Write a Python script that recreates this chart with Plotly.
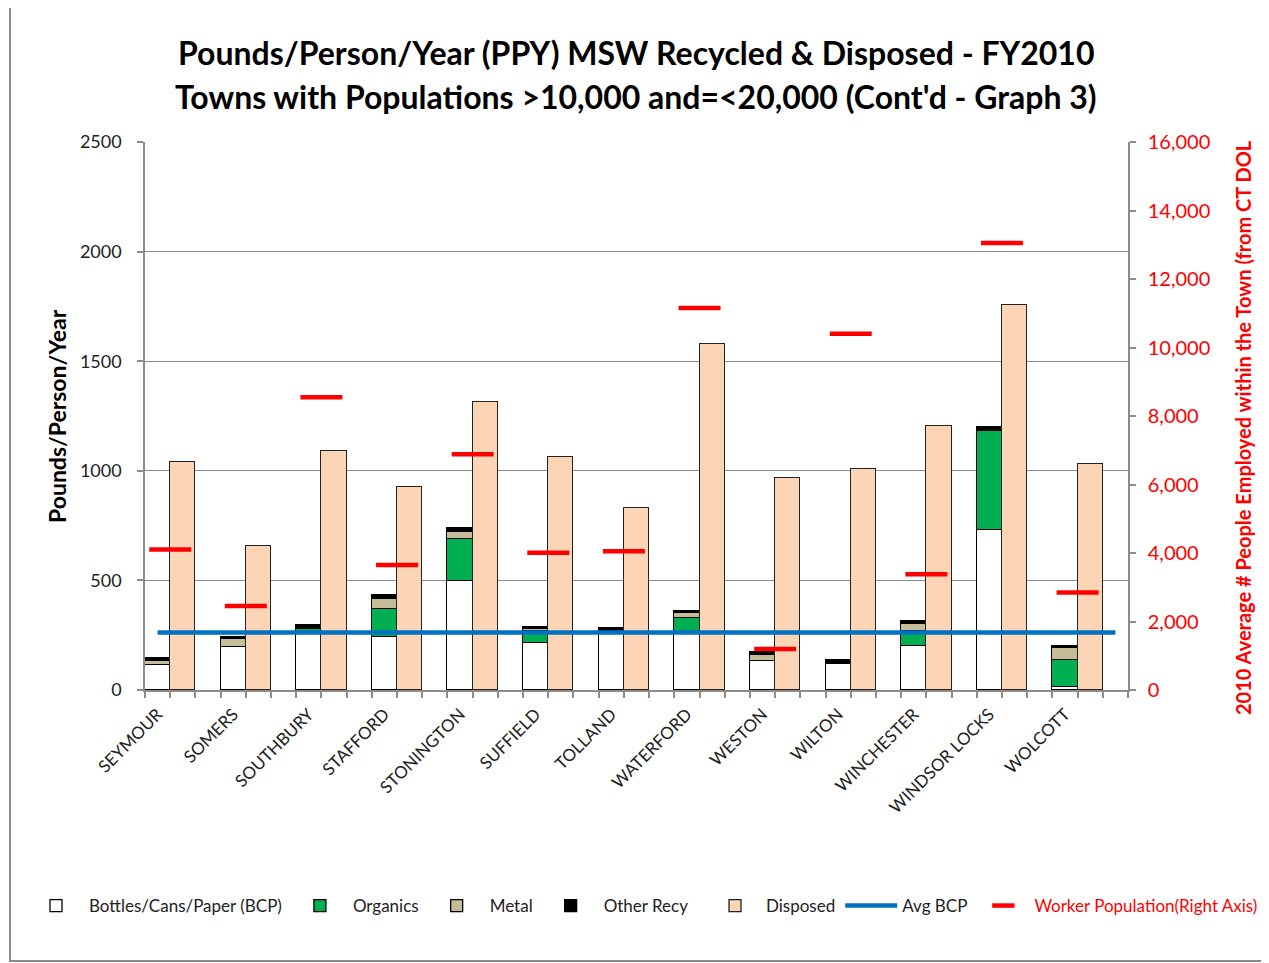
import plotly.graph_objects as go

towns = ["SEYMOUR", "SOMERS", "SOUTHBURY", "STAFFORD", "STONINGTON", "SUFFIELD", "TOLLAND",
         "WATERFORD", "WESTON", "WILTON", "WINCHESTER", "WINDSOR LOCKS", "WOLCOTT"]
bcp = [112, 195, 265, 243, 497, 216, 266, 265, 134, 119, 201, 730, 15]
organics = [0, 0, 13, 125, 193, 55, 0, 65, 0, 0, 68, 452, 122]
metal = [20, 36, 0, 47, 29, 6, 0, 23, 27, 0, 30, 0, 53]
other_recy = [12, 12, 18, 18, 18, 12, 15, 9, 11, 18, 17, 17, 11]
disposed = [1040, 657, 1090, 925, 1314, 1061, 829, 1578, 966, 1010, 1206, 1756, 1031]
workers = [4100, 2450, 8550, 3650, 6880, 4010, 4050, 11150, 1200, 10400, 3380, 13050, 2850]
avg_bcp = 262

FONT = "Lato"
n = len(towns)
x_rec = [3 * i for i in range(n)]
x_disp = [3 * i + 1 for i in range(n)]
x_work = [3 * i + 0.5 for i in range(n)]
x_all = list(range(3 * n))

fig = go.Figure()
edge = dict(color="black", width=1.3)
fig.add_bar(x=x_rec, y=bcp, name="Bottles/Cans/Paper (BCP)", marker=dict(color="white", line=edge), width=1)
fig.add_bar(x=x_rec, y=organics, name="Organics", marker=dict(color="#00B050", line=edge), width=1)
fig.add_bar(x=x_rec, y=metal, name="Metal", marker=dict(color="#C4BD97", line=edge), width=1)
fig.add_bar(x=x_rec, y=other_recy, name="Other Recy", marker=dict(color="black", line=edge), width=1)
fig.add_bar(x=x_disp, y=disposed, name="Disposed", legend="legend2",
            marker=dict(color="#FBD5B5", line=dict(color="#222", width=1.3)), width=1)
fig.add_scatter(x=x_all, y=[avg_bcp] * len(x_all), name="Avg BCP", mode="lines", legend="legend2",
                line=dict(color="#0070C0", width=4.5))
fig.add_scatter(x=x_work, y=workers, yaxis="y2", mode="markers", legend="legend2",
                name="<span style='color:#FF0000'>Worker Population(Right Axis)</span>",
                marker=dict(symbol="line-ew", size=30, line=dict(color="#FF0000", width=4.5)))

OFF = 8  # page body margin
SW, SH = 1269, 963
L, R, T, B = 145, 1128, 142, 690
pw, ph = R - L, B - T
def px(x):
    return (x - L) / pw
def py(y):
    return (B - y) / ph

leg_common = dict(orientation="h", y=py(906), xanchor="left", yanchor="middle",
                  font=dict(size=17, color="#222", family=FONT),
                  traceorder="normal", tracegroupgap=0, bgcolor="rgba(0,0,0,0)")

fig.update_layout(
    width=SW - OFF, height=SH - OFF,
    margin=dict(l=L - OFF, r=SW - R, t=T - OFF, b=SH - B, autoexpand=False),
    paper_bgcolor="white", plot_bgcolor="white",
    barmode="stack", bargap=0,
    font=dict(family=FONT, color="#222"),
    showlegend=True,
    legend=dict(x=px(23), itemwidth=56, **leg_common),
    legend2=dict(x=px(704), itemwidth=52, **leg_common),
    xaxis=dict(range=[-0.5, 3 * n - 0.5], tickvals=x_rec, ticktext=towns, tickangle=-45,
               ticks="", showgrid=False, showline=True, linecolor="#8c8c8c", linewidth=1.5,
               tickfont=dict(size=17, color="#222", family=FONT), zeroline=False,
               ticklabelstandoff=6,
               minor=dict(ticks="outside", tick0=-0.5, dtick=1, ticklen=6, tickcolor="#8c8c8c", tickwidth=1.5)),
    yaxis=dict(range=[0, 2500], dtick=500, showgrid=True, gridcolor="#8c8c8c", gridwidth=1.3,
               showline=True, linecolor="#8c8c8c", linewidth=1.5, ticks="outside", ticklen=6,
               tickcolor="#8c8c8c", tickwidth=1.5, zeroline=False,
               tickfont=dict(size=18, color="#222", family=FONT), ticklabelstandoff=12),
    yaxis2=dict(range=[0, 16000], dtick=2000, overlaying="y", side="right", showgrid=False,
                showline=True, linecolor="#8c8c8c", linewidth=1.5, ticks="outside", ticklen=6,
                tickcolor="#8c8c8c", tickwidth=1.5, tickformat=",", zeroline=False,
                tickfont=dict(size=20, color="#FF0000", family=FONT), ticklabelstandoff=8),
)

fig.add_annotation(text="<b>Pounds/Person/Year (PPY) MSW Recycled &amp; Disposed - FY2010</b>",
                   x=px(636), y=py(52), xref="paper", yref="paper", showarrow=False,
                   font=dict(size=32, color="black", family=FONT), xanchor="center", yanchor="middle")
fig.add_annotation(text="<b>Towns with Populations &gt;10,000 and=&lt;20,000 (Cont'd - Graph 3)</b>",
                   x=px(636), y=py(97), xref="paper", yref="paper", showarrow=False,
                   font=dict(size=32, color="black", family=FONT), xanchor="center", yanchor="middle")
fig.add_annotation(text="<b>Pounds/Person/Year</b>", textangle=-90,
                   x=px(57), y=py(416), xref="paper", yref="paper", showarrow=False,
                   font=dict(size=23, color="black", family=FONT), xanchor="center", yanchor="middle")
fig.add_annotation(text="<b>2010 Average # People Employed within the Town (from CT DOL</b>", textangle=-90,
                   x=px(1243), y=py(428), xref="paper", yref="paper", showarrow=False,
                   font=dict(size=20, color="#FF0000", family=FONT), xanchor="center", yanchor="middle")

fig.add_shape(type="rect", xref="paper", yref="paper",
              x0=px(10), x1=px(1275), y0=py(961), y1=py(6),
              line=dict(color="#8c8c8c", width=2), fillcolor="rgba(0,0,0,0)", layer="below")

fig.write_html("out.html")
